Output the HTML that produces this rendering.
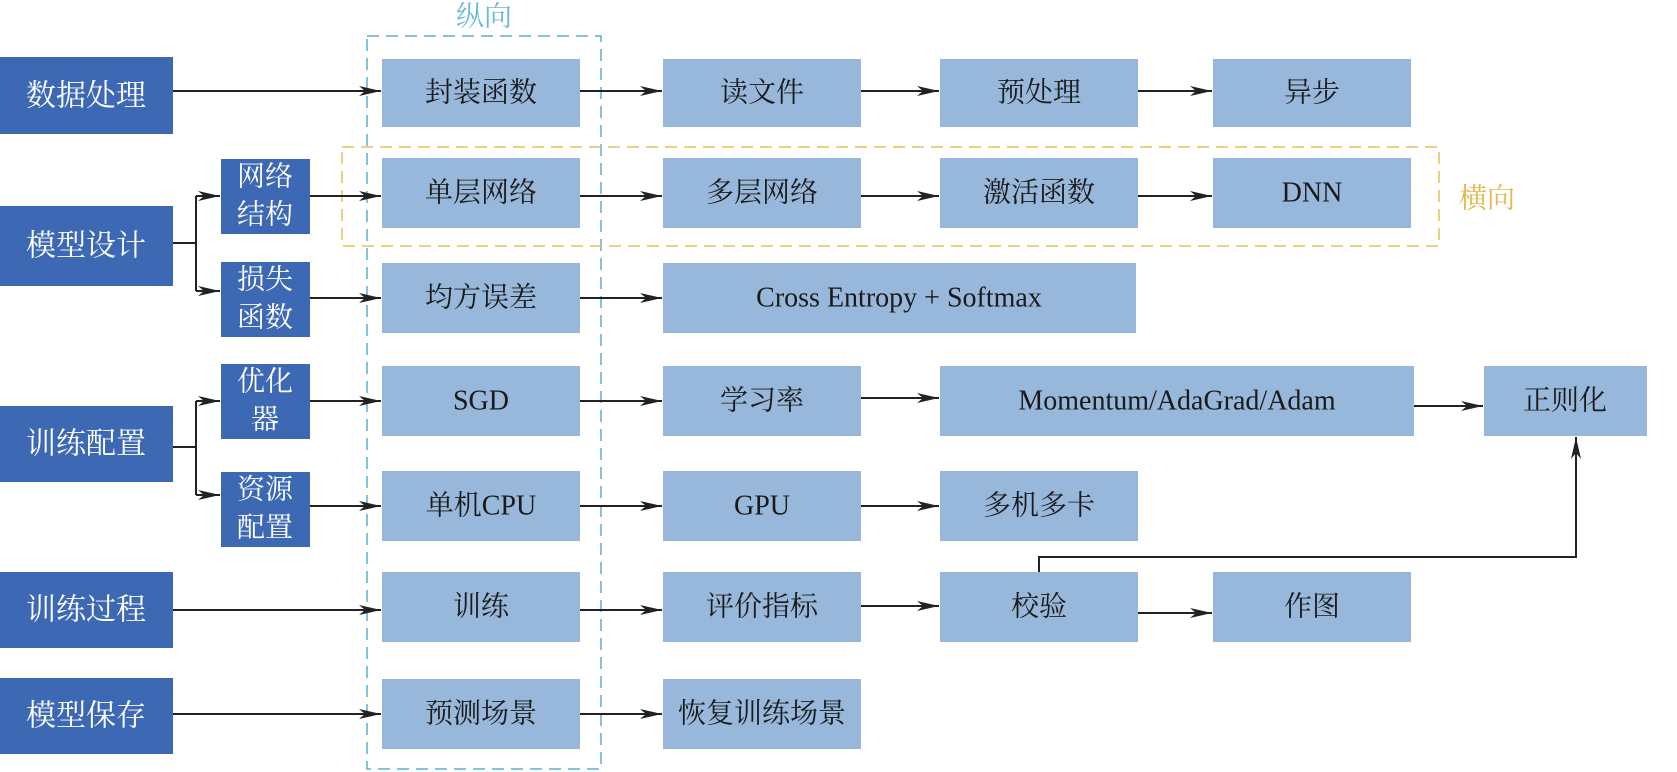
<!DOCTYPE html>
<html><head><meta charset="utf-8"><style>
html,body{margin:0;padding:0;background:#fff;}
svg{display:block;}
text{font-family:"Liberation Serif","Noto Serif CJK SC",serif;font-size:28px;text-anchor:middle;dominant-baseline:central;}
.d{fill:#3d68b3;}
.l{fill:#97b8db;}
.w{fill:#fff;}
.big{font-size:30px;}
.k{fill:#1a1a1a;}
.ln{stroke:#222;stroke-width:2;fill:none;}
</style></head><body>
<svg width="1677" height="772" viewBox="0 0 1677 772" xmlns="http://www.w3.org/2000/svg">
<defs>
<marker id="a" markerWidth="24" markerHeight="12" refX="22" refY="6" orient="auto" markerUnits="userSpaceOnUse">
<path d="M0,1 L22,6 L0,11 L6,6 Z" fill="#222"/>
</marker>
</defs>

<rect x="367" y="36" width="234" height="733" fill="none" stroke="#5aaed6" stroke-width="1.5" stroke-dasharray="12,7"/>
<text x="484" y="17" style="fill:#6cb6dc;font-size:28px">纵向</text>
<rect x="342" y="147" width="1097" height="99" fill="none" stroke="#e6c15a" stroke-width="1.5" stroke-dasharray="12,7"/>
<text x="1487" y="199" style="fill:#e3b94c;font-size:28px">横向</text>

<rect class="d" x="0" y="57" width="173" height="77"/><text class="w big" x="86" y="96">数据处理</text>
<rect class="d" x="0" y="206" width="173" height="80"/><text class="w big" x="86" y="246">模型设计</text>
<rect class="d" x="0" y="406" width="173" height="76"/><text class="w big" x="86" y="444">训练配置</text>
<rect class="d" x="0" y="572" width="173" height="76"/><text class="w big" x="86" y="610">训练过程</text>
<rect class="d" x="0" y="678" width="173" height="76"/><text class="w big" x="86" y="716">模型保存</text>

<rect class="d" x="221" y="159" width="89" height="75"/><text class="w" x="265" y="177">网络</text><text class="w" x="265" y="215">结构</text>
<rect class="d" x="221" y="262" width="89" height="75"/><text class="w" x="265" y="280">损失</text><text class="w" x="265" y="318">函数</text>
<rect class="d" x="221" y="364" width="89" height="75"/><text class="w" x="265" y="382">优化</text><text class="w" x="265" y="420">器</text>
<rect class="d" x="221" y="472" width="89" height="75"/><text class="w" x="265" y="490">资源</text><text class="w" x="265" y="528">配置</text>

<rect class="l" x="382" y="59" width="198" height="68"/><text class="k" x="481" y="93">封装函数</text>
<rect class="l" x="382" y="158" width="198" height="70"/><text class="k" x="481" y="193">单层网络</text>
<rect class="l" x="382" y="263" width="198" height="70"/><text class="k" x="481" y="298">均方误差</text>
<rect class="l" x="382" y="366" width="198" height="70"/><text class="k" x="481" y="401">SGD</text>
<rect class="l" x="382" y="471" width="198" height="70"/><text class="k" x="481" y="506">单机CPU</text>
<rect class="l" x="382" y="572" width="198" height="70"/><text class="k" x="481" y="607">训练</text>
<rect class="l" x="382" y="679" width="198" height="70"/><text class="k" x="481" y="714">预测场景</text>

<rect class="l" x="663" y="59" width="198" height="68"/><text class="k" x="762" y="93">读文件</text>
<rect class="l" x="663" y="158" width="198" height="70"/><text class="k" x="762" y="193">多层网络</text>
<rect class="l" x="663" y="263" width="473" height="70"/><text class="k" x="899" y="298">Cross Entropy + Softmax</text>
<rect class="l" x="663" y="366" width="198" height="70"/><text class="k" x="762" y="401">学习率</text>
<rect class="l" x="663" y="471" width="198" height="70"/><text class="k" x="762" y="506">GPU</text>
<rect class="l" x="663" y="572" width="198" height="70"/><text class="k" x="762" y="607">评价指标</text>
<rect class="l" x="663" y="679" width="198" height="70"/><text class="k" x="762" y="714">恢复训练场景</text>

<rect class="l" x="940" y="59" width="198" height="68"/><text class="k" x="1039" y="93">预处理</text>
<rect class="l" x="940" y="158" width="198" height="70"/><text class="k" x="1039" y="193">激活函数</text>
<rect class="l" x="940" y="366" width="474" height="70"/><text class="k" x="1177" y="401">Momentum/AdaGrad/Adam</text>
<rect class="l" x="940" y="471" width="198" height="70"/><text class="k" x="1039" y="506">多机多卡</text>
<rect class="l" x="940" y="572" width="198" height="70"/><text class="k" x="1039" y="607">校验</text>

<rect class="l" x="1213" y="59" width="198" height="68"/><text class="k" x="1312" y="93">异步</text>
<rect class="l" x="1213" y="158" width="198" height="70"/><text class="k" x="1312" y="193">DNN</text>
<rect class="l" x="1213" y="572" width="198" height="70"/><text class="k" x="1312" y="607">作图</text>
<rect class="l" x="1484" y="366" width="163" height="70"/><text class="k" x="1565" y="401">正则化</text>

<g class="ln">
<line x1="173" y1="91" x2="381" y2="91" marker-end="url(#a)"/>
<line x1="580" y1="91" x2="662" y2="91" marker-end="url(#a)"/>
<line x1="861" y1="91" x2="939" y2="91" marker-end="url(#a)"/>
<line x1="1138" y1="91" x2="1212" y2="91" marker-end="url(#a)"/>

<polyline points="173,243 196,243"/>
<polyline points="196,196 196,291"/>
<line x1="196" y1="196" x2="220" y2="196" marker-end="url(#a)"/>
<line x1="196" y1="291" x2="220" y2="291" marker-end="url(#a)"/>
<line x1="310" y1="196" x2="381" y2="196" marker-end="url(#a)"/>
<line x1="310" y1="298" x2="381" y2="298" marker-end="url(#a)"/>
<line x1="580" y1="196" x2="662" y2="196" marker-end="url(#a)"/>
<line x1="861" y1="196" x2="939" y2="196" marker-end="url(#a)"/>
<line x1="1138" y1="196" x2="1212" y2="196" marker-end="url(#a)"/>
<line x1="580" y1="298" x2="662" y2="298" marker-end="url(#a)"/>

<polyline points="173,447 196,447"/>
<polyline points="196,401 196,495"/>
<line x1="196" y1="401" x2="220" y2="401" marker-end="url(#a)"/>
<line x1="196" y1="495" x2="220" y2="495" marker-end="url(#a)"/>
<line x1="310" y1="401" x2="381" y2="401" marker-end="url(#a)"/>
<line x1="310" y1="506" x2="381" y2="506" marker-end="url(#a)"/>
<line x1="580" y1="401" x2="662" y2="401" marker-end="url(#a)"/>
<line x1="861" y1="398" x2="939" y2="398" marker-end="url(#a)"/>
<line x1="1414" y1="406" x2="1483" y2="406" marker-end="url(#a)"/>
<line x1="580" y1="506" x2="662" y2="506" marker-end="url(#a)"/>
<line x1="861" y1="506" x2="939" y2="506" marker-end="url(#a)"/>

<line x1="173" y1="610" x2="381" y2="610" marker-end="url(#a)"/>
<line x1="580" y1="610" x2="662" y2="610" marker-end="url(#a)"/>
<line x1="861" y1="606" x2="939" y2="606" marker-end="url(#a)"/>
<line x1="1138" y1="613" x2="1212" y2="613" marker-end="url(#a)"/>
<polyline points="1039,572 1039,557 1576,557 1576,437" marker-end="url(#a)"/>

<line x1="173" y1="714" x2="381" y2="714" marker-end="url(#a)"/>
<line x1="580" y1="714" x2="662" y2="714" marker-end="url(#a)"/>
</g>
</svg>
</body></html>
